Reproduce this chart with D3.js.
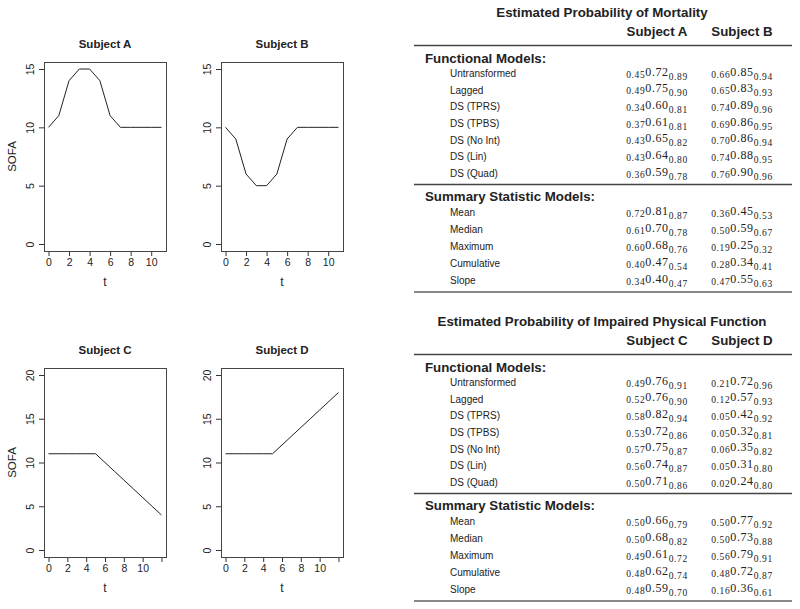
<!DOCTYPE html>
<html lang="en">
<head>
<meta charset="UTF-8">
<title>SOFA trajectories and estimated probabilities</title>
<script src="https://cdn.jsdelivr.net/npm/d3@7"></script>
<style>
  body { margin: 0; background: #fff; }
  svg { display: block; }
  .plot text { font-family: "Liberation Sans", Arial, sans-serif; fill: #222; }
  .tbl text { font-family: "Liberation Sans", Arial, sans-serif; fill: #222; }
  .tbl .num { font-family: "Liberation Serif", "Times New Roman", serif; }
</style>
</head>
<body>
<div id="chart"></div>
<script>
// ---- data: SOFA trajectories ----
const tAB = [0, 1, 2, 3, 4, 5, 6, 7, 8, 9, 10, 11];
const sofaA = [10, 11, 14, 15, 15, 14, 11, 10, 10, 10, 10, 10];
const sofaB = [10, 9, 6, 5, 5, 6, 9, 10, 10, 10, 10, 10];
const tCD = [0, 1, 2, 3, 4, 5, 6, 7, 8, 9, 10, 11, 12];
const sofaC = [11, 11, 11, 11, 11, 11, 10, 9, 8, 7, 6, 5, 4];
const sofaD = [11, 11, 11, 11, 11, 11, 12, 13, 14, 15, 16, 17, 18];

const xTicksAB = [0, 2, 4, 6, 8, 10];
const xLabelsAB = ["0", "2", "4", "6", "8", "10"];
const xTicksCD = [0, 2, 4, 6, 8, 10, 12];
const xLabelsCD = ["0", "2", "4", "6", "8", "10", ""];   // R drops the last label
const yTicksAB = [0, 5, 10, 15];
const yTicksCD = [0, 5, 10, 15, 20];

// ---- data: tables ----
const functionalModels = ["Untransformed", "Lagged", "DS (TPRS)", "DS (TPBS)", "DS (No Int)", "DS (Lin)", "DS (Quad)"];
const summaryModels = ["Mean", "Median", "Maximum", "Cumulative", "Slope"];

// [lower, estimate, upper]
const mortFuncA = [[0.45, 0.72, 0.89], [0.49, 0.75, 0.90], [0.34, 0.60, 0.81], [0.37, 0.61, 0.81], [0.43, 0.65, 0.82], [0.43, 0.64, 0.80], [0.36, 0.59, 0.78]];
const mortFuncB = [[0.66, 0.85, 0.94], [0.65, 0.83, 0.93], [0.74, 0.89, 0.96], [0.69, 0.86, 0.95], [0.70, 0.86, 0.94], [0.74, 0.88, 0.95], [0.76, 0.90, 0.96]];
const mortSumA = [[0.72, 0.81, 0.87], [0.61, 0.70, 0.78], [0.60, 0.68, 0.76], [0.40, 0.47, 0.54], [0.34, 0.40, 0.47]];
const mortSumB = [[0.36, 0.45, 0.53], [0.50, 0.59, 0.67], [0.19, 0.25, 0.32], [0.28, 0.34, 0.41], [0.47, 0.55, 0.63]];

const physFuncC = [[0.49, 0.76, 0.91], [0.52, 0.76, 0.90], [0.58, 0.82, 0.94], [0.53, 0.72, 0.86], [0.57, 0.75, 0.87], [0.56, 0.74, 0.87], [0.50, 0.71, 0.86]];
const physFuncD = [[0.21, 0.72, 0.96], [0.12, 0.57, 0.93], [0.05, 0.42, 0.92], [0.05, 0.32, 0.81], [0.06, 0.35, 0.82], [0.05, 0.31, 0.80], [0.02, 0.24, 0.80]];
const physSumC = [[0.50, 0.66, 0.79], [0.50, 0.68, 0.82], [0.49, 0.61, 0.72], [0.48, 0.62, 0.74], [0.48, 0.59, 0.70]];
const physSumD = [[0.50, 0.77, 0.92], [0.50, 0.73, 0.88], [0.56, 0.79, 0.91], [0.48, 0.72, 0.87], [0.16, 0.36, 0.61]];

const W = 800, H = 609;
const svg = d3.select("#chart").append("svg")
    .attr("width", W)
    .attr("height", H);

// ---------- small multiples (R base graphics look) ----------
const boxW = 122, boxH = 189;

function drawPanel(p) {
  const g = svg.append("g").attr("class", "plot");
  const xMax = d3.max(p.t), yMax = d3.max(p.yTicks);

  // R's default 4% padding on both axes
  const x = d3.scaleLinear()
      .domain([-0.04 * xMax, 1.04 * xMax])
      .range([p.left, p.left + boxW]);
  const y = d3.scaleLinear()
      .domain([-0.04 * yMax, 1.04 * yMax])
      .range([p.top + boxH, p.top]);

  // x axis
  const xa = g.append("g")
      .attr("transform", `translate(0, ${p.top + boxH})`)
      .call(d3.axisBottom(x)
        .tickValues(p.xTicks)
        .tickFormat((d, i) => p.xLabels[i])
        .tickSize(5)
        .tickPadding(3));
  xa.select(".domain").remove();
  xa.selectAll("line").attr("stroke", "#333");
  xa.selectAll("text").style("font-size", "10.5px").attr("fill", "#222");

  // y axis, labels rotated like las=0
  const ya = g.append("g")
      .attr("transform", `translate(${p.left}, 0)`)
      .call(d3.axisLeft(y).tickValues(p.yTicks).tickSize(5));
  ya.select(".domain").remove();
  ya.selectAll("line").attr("stroke", "#333");
  ya.selectAll("text")
      .style("font-size", "10.5px")
      .attr("fill", "#222")
      .attr("x", 0)
      .attr("y", -10)
      .attr("dy", 0)
      .attr("text-anchor", "middle")
      .attr("transform", "rotate(-90)");

  // box
  g.append("rect")
      .attr("x", p.left + 0.5)
      .attr("y", p.top + 0.5)
      .attr("width", boxW)
      .attr("height", boxH)
      .attr("fill", "none")
      .attr("stroke", "#444")
      .attr("stroke-width", 1);

  // trajectory
  const line = d3.line()
      .x((d, i) => x(p.t[i]))
      .y(d => y(d));
  g.append("path")
      .datum(p.sofa)
      .attr("d", line)
      .attr("fill", "none")
      .attr("stroke", "#222")
      .attr("stroke-width", 1);

  // titles
  g.append("text")
      .attr("x", p.left + boxW / 2)
      .attr("y", p.top - 14.5)
      .attr("text-anchor", "middle")
      .style("font-size", "11.5px")
      .style("font-weight", "bold")
      .text(p.title);

  g.append("text")
      .attr("x", p.left + boxW / 2)
      .attr("y", p.top + boxH + 35)
      .attr("text-anchor", "middle")
      .style("font-size", "12px")
      .text("t");

  if (p.yLab) {
    g.append("text")
        .attr("transform", `translate(16, ${p.top + boxH / 2}) rotate(-90)`)
        .attr("text-anchor", "middle")
        .style("font-size", "11.5px")
        .text("SOFA");
  }
}

drawPanel({title: "Subject A", t: tAB, sofa: sofaA, xTicks: xTicksAB, xLabels: xLabelsAB, yTicks: yTicksAB, left: 44, top: 62, yLab: true});
drawPanel({title: "Subject B", t: tAB, sofa: sofaB, xTicks: xTicksAB, xLabels: xLabelsAB, yTicks: yTicksAB, left: 221, top: 62, yLab: false});
drawPanel({title: "Subject C", t: tCD, sofa: sofaC, xTicks: xTicksCD, xLabels: xLabelsCD, yTicks: yTicksCD, left: 44, top: 368, yLab: true});
drawPanel({title: "Subject D", t: tCD, sofa: sofaD, xTicks: xTicksCD, xLabels: xLabelsCD, yTicks: yTicksCD, left: 221, top: 368, yLab: false});

// ---------- tables ----------
const fmt = d3.format(".2f");
const ruleX0 = 414, ruleX1 = 792;

function drawTable(tb) {
  const g = svg.append("g").attr("class", "tbl")
      .attr("transform", `translate(0, ${tb.dy})`);

  // columns: subject 1, subject 2
  const col = d3.scaleOrdinal()
      .domain(tb.subjects)
      .range([657, 742]);

  const yFunc = d3.scalePoint().domain(functionalModels).range([73.5, 173.5]);
  const ySum = d3.scalePoint().domain(summaryModels).range([212.5, 280.5]);

  g.append("text")
      .attr("x", 602).attr("y", 17)
      .attr("text-anchor", "middle")
      .style("font-size", "13.3px").style("font-weight", "bold")
      .text(tb.title);

  g.selectAll(".subj").data(tb.subjects).join("text")
      .attr("x", d => col(d)).attr("y", 36)
      .attr("text-anchor", "middle")
      .style("font-size", "13.3px").style("font-weight", "bold")
      .text(d => d);

  const rules = [45.5, 184.5, 292];
  g.selectAll(".rule").data(rules).join("line")
      .attr("x1", ruleX0).attr("x2", ruleX1)
      .attr("y1", d => d).attr("y2", d => d)
      .attr("stroke", (d, i) => i === 2 ? "#888" : "#444")
      .attr("stroke-width", (d, i) => i === 2 ? 2 : 1.3);

  g.append("text")
      .attr("x", 425).attr("y", 62.5)
      .style("font-size", "13.3px").style("font-weight", "bold")
      .text("Functional Models:");
  g.append("text")
      .attr("x", 425).attr("y", 201)
      .style("font-size", "13.3px").style("font-weight", "bold")
      .text("Summary Statistic Models:");

  function rows(names, yS, v1, v2) {
    g.selectAll(null).data(names).join("text")
        .attr("x", 450).attr("y", d => yS(d) + 3.5)
        .style("font-size", "10px")
        .text(d => d);

    [v1, v2].forEach((vals, k) => {
      const t = g.selectAll(null).data(vals).join("text")
          .attr("class", "num")
          .attr("x", col(tb.subjects[k]))
          .attr("y", (d, i) => yS(names[i]) + 3.5)
          .attr("text-anchor", "middle")
          .style("letter-spacing", "0.6px");
      t.append("tspan").style("font-size", "9.5px").attr("dy", 0.5).text(d => fmt(d[0]));
      t.append("tspan").style("font-size", "12px").attr("dy", -2).text(d => fmt(d[1]));
      t.append("tspan").style("font-size", "9.5px").attr("dy", 4).text(d => fmt(d[2]));
    });
  }

  rows(functionalModels, yFunc, tb.func1, tb.func2);
  rows(summaryModels, ySum, tb.sum1, tb.sum2);
}

drawTable({title: "Estimated Probability of Mortality", subjects: ["Subject A", "Subject B"],
  func1: mortFuncA, func2: mortFuncB, sum1: mortSumA, sum2: mortSumB, dy: 0});
drawTable({title: "Estimated Probability of Impaired Physical Function", subjects: ["Subject C", "Subject D"],
  func1: physFuncC, func2: physFuncD, sum1: physSumC, sum2: physSumD, dy: 309});
</script>
</body>
</html>
